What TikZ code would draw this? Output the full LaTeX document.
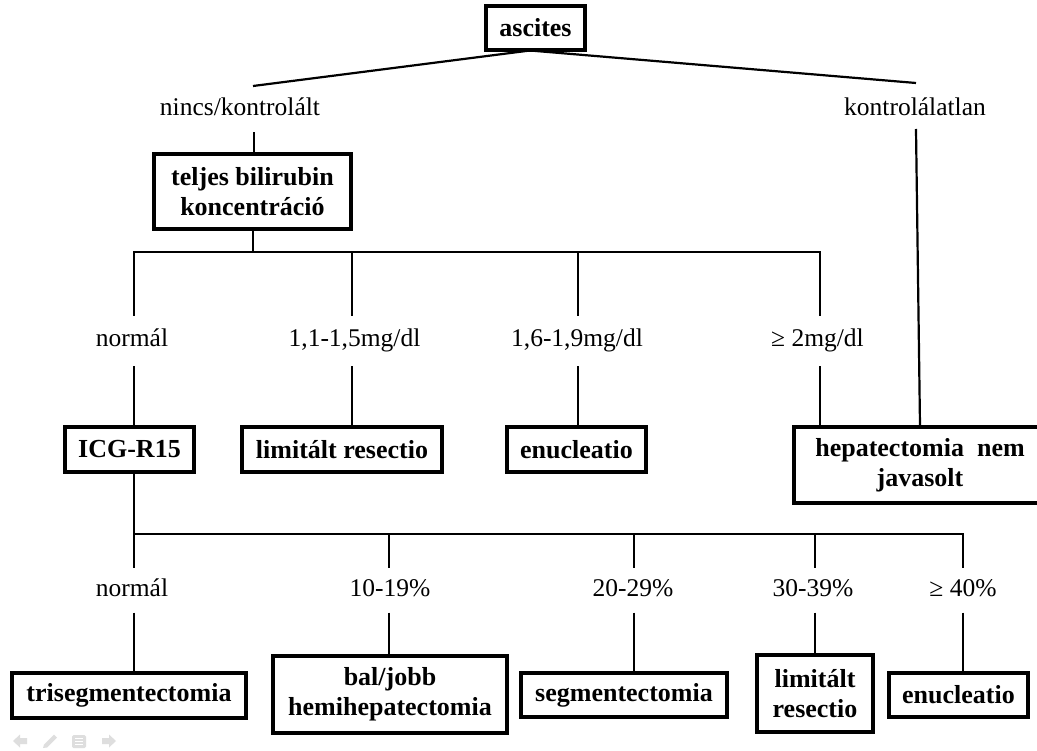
\documentclass[tikz,border=0pt]{standalone}
\usepackage{fontspec}
\setmainfont{Liberation Serif}
\begin{document}
\begin{tikzpicture}[x=1pt,y=-1pt,
  every node/.style={font=\fontsize{25.5}{30}\selectfont},
  box/.style={draw=black,line width=3.4pt,inner sep=0pt,align=center,font=\fontsize{26}{30}\selectfont\bfseries},
  lbl/.style={inner sep=0pt,text height=18pt,text depth=6pt},
  conn/.style={line width=2.2pt},
  navicon/.style={fill=black!13,draw=none}]
\clip (0,0) rectangle (1037,751);
\fill[white] (0,0) rectangle (1037,751);
% boxes
\node[box,minimum width=99pt,minimum height=44pt] (asc) at (535.5,28) {ascites};
\node[box,minimum width=197pt,minimum height=75pt] (bili) at (252.5,191.5) {teljes bilirubin\\ koncentráció};
\node[box,minimum width=129pt,minimum height=45pt] (icg) at (129.5,449.5) {ICG-R15};
\node[box,minimum width=200pt,minimum height=45pt] (limA) at (342,449.5) {limitált resectio};
\node[box,minimum width=139pt,minimum height=45pt] (enuA) at (576.5,449.5) {enucleatio};
\node[box,minimum width=252pt,minimum height=76pt] (hep) at (920,465) {hepatectomia\ \ nem\\ javasolt};
\node[box,minimum width=234pt,minimum height=45pt] (tri) at (129,695.5) {trisegmentectomia};
\node[box,minimum width=234pt,minimum height=77pt] (bal) at (390,694.5) {bal/jobb\\ hemihepatectomia};
\node[box,minimum width=206pt,minimum height=44pt] (seg) at (624,695) {segmentectomia};
\node[box,minimum width=116pt,minimum height=77pt] (limB) at (815,693.5) {limitált\\ resectio};
\node[box,minimum width=139pt,minimum height=44pt] (enuB) at (958.5,695) {enucleatio};
% labels
\node[lbl,minimum height=44pt] (nk) at (240,110) {nincs/kontrolált};
\node[lbl,minimum height=44pt] (kl) at (915,110) {kontrolálatlan};
\node[lbl,minimum height=50pt] (la1) at (132,341) {normál};
\node[lbl,minimum height=50pt] (la2) at (354.5,341) {1,1-1,5mg/dl};
\node[lbl,minimum height=50pt] (la3) at (577,341) {1,6-1,9mg/dl};
\node[lbl,minimum height=50pt] (la4) at (817.5,341) {≥ 2mg/dl};
\node[lbl,minimum height=44pt] (lb1) at (132,590.5) {normál};
\node[lbl,minimum height=44pt] (lb2) at (390,590.5) {10-19\%};
\node[lbl,minimum height=44pt] (lb3) at (633,590.5) {20-29\%};
\node[lbl,minimum height=44pt] (lb4) at (813,590.5) {30-39\%};
\node[lbl,minimum height=44pt] (lb5) at (963,590.5) {≥ 40\%};
% junction coordinates
\coordinate (ascJ) at (530,50.5);
\coordinate (nkT) at (253,86);
\coordinate (klT) at (916,83);
\coordinate (klB) at (916,129);
\coordinate (nkX) at (254,0);
\coordinate (barA) at (253,252);
\coordinate (a1) at (134,252);
\coordinate (a2) at (352,252);
\coordinate (a3) at (578,252);
\coordinate (a4) at (820,252);
\coordinate (b1) at (134,534);
\coordinate (b2) at (389,534);
\coordinate (b3) at (634,534);
\coordinate (b4) at (815,534);
\coordinate (b5) at (963,534);
% connectors: top
\draw[conn] (nkT) -- (ascJ) -- (klT);
\draw[conn] (nk.south -| nkX) -- (bili.north -| nkX);
\draw[conn] (klB) -- (hep.north);
\draw[conn] (bili.south -| barA) -- (barA);
\draw[conn] (a1 |- la1.north) -- (a1) -- (a4) -- (a4 |- la4.north);
\draw[conn] (a2) -- (a2 |- la2.north);
\draw[conn] (a3) -- (a3 |- la3.north);
\draw[conn] (a1 |- la1.south) -- (a1 |- icg.north);
\draw[conn] (a2 |- la2.south) -- (a2 |- limA.north);
\draw[conn] (a3 |- la3.south) -- (a3 |- enuA.north);
\draw[conn] (a4 |- la4.south) -- (a4 |- hep.north);
% connectors: bottom
\draw[conn] (b1 |- icg.south) -- (b1) -- (b1 |- lb1.north);
\draw[conn] (b1) -- (b5) -- (b5 |- lb5.north);
\draw[conn] (b2) -- (b2 |- lb2.north);
\draw[conn] (b3) -- (b3 |- lb3.north);
\draw[conn] (b4) -- (b4 |- lb4.north);
\draw[conn] (b1 |- lb1.south) -- (b1 |- tri.north);
\draw[conn] (b2 |- lb2.south) -- (b2 |- bal.north);
\draw[conn] (b3 |- lb3.south) -- (b3 |- seg.north);
\draw[conn] (b4 |- lb4.south) -- (b4 |- limB.north);
\draw[conn] (b5 |- lb5.south) -- (b5 |- enuB.north);
% navigation icons
\fill[navicon] (13,741) -- (20,734.5) -- (20,738) -- (27,738) -- (27,744) -- (20,744) -- (20,747.5) -- cycle;
\fill[navicon] (43,748) -- (44,744.5) -- (54,734.5) -- (57,737.5) -- (47,747.5) -- cycle;
\fill[navicon,rounded corners=1.5pt] (72,735) rectangle (86,748);
\draw[white,line width=0.8pt] (75,738.5) -- (83,738.5) (75,741.5) -- (83,741.5) (75,744.5) -- (83,744.5);
\fill[navicon] (116,741) -- (109,734.5) -- (109,738) -- (102,738) -- (102,744) -- (109,744) -- (109,747.5) -- cycle;
\end{tikzpicture}
\end{document}
